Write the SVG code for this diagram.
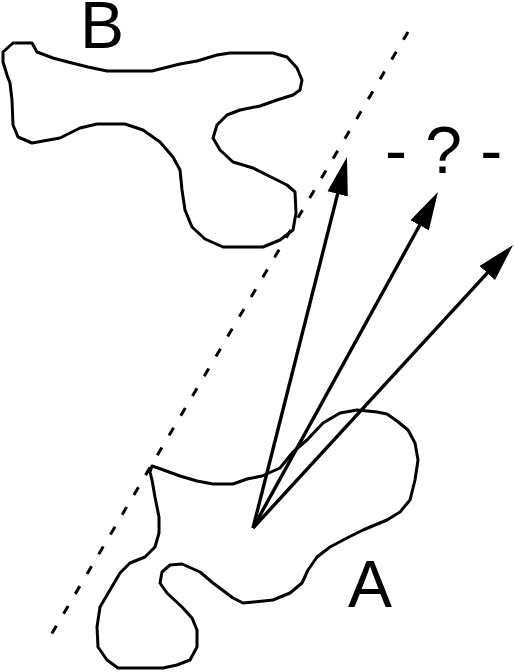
<svg xmlns="http://www.w3.org/2000/svg" width="514" height="672" viewBox="0 0 514 672">
<style>
.blob{fill:none;stroke:#000;stroke-width:3;stroke-linejoin:round}
.dash{fill:none;stroke:#000;stroke-width:3;stroke-dasharray:9 14}
.arrow{fill:none;stroke:#000;stroke-width:3.4;marker-end:url(#head)}
.lbl{font-family:"Liberation Sans",Arial,sans-serif;font-size:66px;fill:#000}
</style>
<defs>
<marker id="head" markerUnits="userSpaceOnUse" markerWidth="40" markerHeight="24" viewBox="0 -12 40 24" refX="8" refY="0" orient="auto">
<path d="M0,-10.5 L38,0 L0,10.5 z" fill="#000"/>
</marker>
</defs>
<rect width="514" height="672" fill="#fff"/>
<g id="blobB">
<path class="blob" d="M13,43 L32,43 L37,52 L53,58 L68,62 L88,67 L107,71 L152,71 L180,64 L197,61 L217,55 L230,53 L273,53 L287,57 L297,68 L302,80 L300,90 L293,95 L277,100 L260,106 L240,110 L227,115 L217,125 L213,138 L220,150 L233,162 L253,168 L273,178 L287,185 L295,192 L296,213 L293,230 L280,240 L263,247 L223,247 L205,239 L192,227 L185,210 L182,190 L180,170 L173,157 L160,142 L143,130 L125,124 L97,124 L80,128 L60,138 L32,143 L18,137 L13,125 L12,100 L10,83 L7,75 L3,62 L3,52 Z"/>
<text class="lbl" x="80" y="48">B</text>
</g>
<g id="blobA">
<path class="blob" d="M152,466 L158,468 L180,476 L197,481 L213,484 L233,484 L247,479 L262,476 L280,468 L293,452 L307,440 L323,423 L340,413 L357,410 L377,412 L387,414 L397,421 L408,430 L415,443 L418,460 L415,480 L410,500 L400,512 L387,520 L363,530 L347,538 L330,547 L317,557 L308,570 L302,583 L290,593 L273,600 L243,603 L233,598 L213,583 L200,572 L182,564 L170,565 L162,572 L160,583 L167,593 L182,607 L192,618 L197,630 L197,647 L190,660 L177,665 L163,668 L118,668 L107,660 L98,647 L97,627 L100,607 L110,590 L120,573 L130,563 L145,557 L155,547 L159,533 L159,517 L155,497 L152,480 L150,472 Z"/>
<text class="lbl" x="348" y="607">A</text>
</g>
<g id="question">
<text class="lbl" x="385" y="173" xml:space="preserve">- ? -</text>
</g>
<g id="connectors">
<line class="dash" x1="408" y1="32" x2="45" y2="645"/>
<line class="arrow" x1="253" y1="528" x2="339.6" y2="186.1"/>
<line class="arrow" x1="253" y1="528" x2="423.5" y2="218.3"/>
<line class="arrow" x1="253" y1="528" x2="492.7" y2="267.1"/>
</g>
</svg>
